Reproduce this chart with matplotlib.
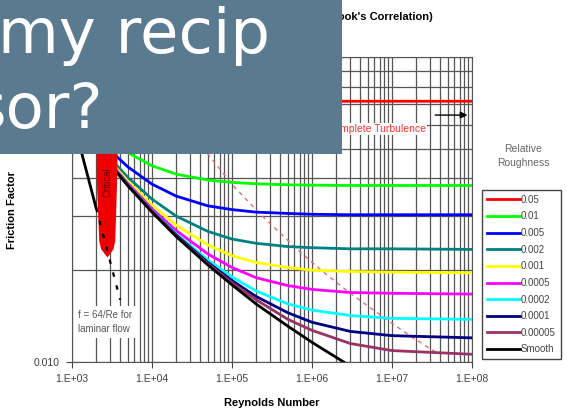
import matplotlib
matplotlib.use("Agg")
import matplotlib.pyplot as plt
from matplotlib.patches import Rectangle
from matplotlib.ticker import LogLocator, FixedLocator, NullFormatter

plt.rcParams['font.family'] = ['Liberation Sans', 'DejaVu Sans']

# Reynolds numbers the turbulent curves are sampled at
re_turb = [3e3, 5e3, 1e4, 2e4, 5e4, 1e5, 2e5, 5e5, 1e6, 3e6, 1e7, 1e8]

# friction factor for each relative roughness
f_05 = [0.0816, 0.0780, 0.0751, 0.0734, 0.0724, 0.0720, 0.0718, 0.0717, 0.0716, 0.0716, 0.0716, 0.0716]
f_01 = [0.0537, 0.0486, 0.0440, 0.0413, 0.0395, 0.0388, 0.0384, 0.0381, 0.0380, 0.0379, 0.0379, 0.0379]
f_005 = [0.0494, 0.0436, 0.0383, 0.0350, 0.0325, 0.0316, 0.0310, 0.0307, 0.0305, 0.0304, 0.0304, 0.0304]
f_002 = [0.0465, 0.0403, 0.0342, 0.0301, 0.0268, 0.0253, 0.0245, 0.0239, 0.0237, 0.0235, 0.0235, 0.0234]
f_001 = [0.0455, 0.0391, 0.0327, 0.0281, 0.0242, 0.0223, 0.0212, 0.0204, 0.0200, 0.0198, 0.0197, 0.0196]
f_0005 = [0.0450, 0.0385, 0.0318, 0.0270, 0.0226, 0.0204, 0.0189, 0.0178, 0.0173, 0.0169, 0.0168, 0.0167]
f_0002 = [0.0447, 0.0381, 0.0313, 0.0263, 0.0216, 0.0190, 0.0171, 0.0155, 0.0148, 0.0142, 0.0139, 0.0138]
f_0001 = [0.0446, 0.0380, 0.0312, 0.0261, 0.0212, 0.0185, 0.0164, 0.0145, 0.0135, 0.0126, 0.0122, 0.0120]
f_00005 = [0.0445, 0.0379, 0.0311, 0.0259, 0.0210, 0.0182, 0.0160, 0.0138, 0.0127, 0.0115, 0.0109, 0.0106]
f_smooth = [0.0445, 0.0378, 0.0310, 0.0258, 0.0208, 0.0179, 0.0155, 0.0131, 0.0116, 0.0097, 0.0081, 0.0060]

roughness = ['0.05', '0.01', '0.005', '0.002', '0.001', '0.0005', '0.0002', '0.0001', '0.00005', 'Smooth']
colors = ['#ff0000', '#00ff00', '#0000ff', '#008080', '#ffff00', '#ff00ff', '#00ffff', '#000080', '#993366', '#000000']

# laminar line f = 64/Re, solid then dashed through the critical zone
re_lam = [1000, 2000]
f_lam = [0.064, 0.032]
re_lam_dash = [2000, 4000]
f_lam_dash = [0.032, 0.016]

# critical zone outline (friction factor vs left / right Re)
f_crit = [0.0221, 0.0235, 0.025, 0.03, 0.04, 0.06, 0.1]
re_crit_left = [2740, 2280, 2160, 2100, 2010, 1990, 1990]
re_crit_right = [2740, 3250, 3420, 3500, 3620, 3700, 3700]

# start of complete turbulence for each roughness
re_full = [14950, 102700, 229500, 654000, 1427000, 3100000, 8530000, 18260000, 38900000]
f_full = [0.0716, 0.0379, 0.0304, 0.0234, 0.0196, 0.0167, 0.0138, 0.0120, 0.0106]

W, H = 567, 419
fig = plt.figure(figsize=(W / 100, H / 100), dpi=100)
ax = fig.add_axes([72 / W, 1 - 362 / H, 400 / W, 305 / H])
ax.set_xscale('log')
ax.set_yscale('log')
ax.set_xlim(1e3, 1e8)
ax.set_ylim(0.01, 0.1)

# grid on every minor step
ax.xaxis.set_major_locator(LogLocator(base=10, numticks=10))
ax.xaxis.set_minor_locator(LogLocator(base=10, subs=range(2, 10), numticks=20))
ax.yaxis.set_major_locator(FixedLocator([0.01, 0.1]))
ax.yaxis.set_minor_locator(FixedLocator([0.02, 0.03, 0.04, 0.05, 0.06, 0.07, 0.08, 0.09]))
ax.xaxis.set_minor_formatter(NullFormatter())
ax.yaxis.set_minor_formatter(NullFormatter())
ax.grid(True, which='both', color='#555555', lw=0.9)
ax.set_axisbelow(True)

ax.set_xticks([1e3, 1e4, 1e5, 1e6, 1e7, 1e8])
ax.set_xticklabels(['1.E+03', '1.E+04', '1.E+05', '1.E+06', '1.E+07', '1.E+08'])
ax.set_yticks([0.01, 0.1])
ax.set_yticklabels(['0.010', '0.100'])
ax.tick_params(which='major', length=4, color='#444444', labelsize=7.5, labelcolor='#404040', pad=5)
ax.tick_params(which='minor', length=0)
for s in ax.spines.values():
    s.set_color('#555555')

series = [f_05, f_01, f_005, f_002, f_001, f_0005, f_0002, f_0001, f_00005, f_smooth]
handles = []
for vals, lab, c in zip(series, roughness, colors):
    ln, = ax.plot(re_turb, vals, color=c, lw=2.0, label=lab, zorder=3)
    handles.append(ln)

ax.plot(re_full, f_full, color='#e07070', lw=1.0, dashes=(3, 3), zorder=2)

ax.plot(re_lam, f_lam, color='black', lw=2.0, zorder=3)
ax.fill_betweenx(f_crit, re_crit_left, re_crit_right, color='#ee0000', lw=0, zorder=4)
ax.plot(re_lam_dash, f_lam_dash, color='black', lw=1.6, dashes=(2, 4), zorder=5)
ax.text(2740, 0.039, 'Critical', rotation=90, ha='center', va='center',
        fontsize=7, color='#6a0000', zorder=6)

ax.text(2.66e7, 0.0581, 'Complete Turbulence', ha='right', va='center', fontsize=7.5,
        color='#ff3030', zorder=6,
        bbox=dict(facecolor='white', edgecolor='none', pad=1))
ax.annotate('', xy=(9.5e7, 0.0645), xytext=(3.2e7, 0.0645),
            arrowprops=dict(arrowstyle='-|>', color='black', lw=1.0, mutation_scale=10),
            zorder=6)

ax.text(1.19e3, 0.0148, 'f = 64/Re for\nlaminar flow', ha='left', va='top', fontsize=7,
        color='#555555', linespacing=1.5, zorder=6,
        bbox=dict(facecolor='white', edgecolor='none', pad=3))

ax.set_xlabel('Reynolds Number', fontsize=8, fontweight='bold', labelpad=10)
ax.set_ylabel('Friction Factor', fontsize=8, fontweight='bold')
ax.yaxis.set_label_coords(-0.1375, 0.5)

fig.text(433 / W, 1 - 17 / H, "Moody Diagram (Colebrook's Correlation)", ha='right',
         va='center', fontsize=8, fontweight='bold')

fig.text(523 / W, 1 - 156 / H, 'Relative\nRoughness', ha='center', va='center',
         fontsize=7.5, color='#666666', linespacing=1.6)
fig.legend(handles=handles, loc='upper left', bbox_to_anchor=(482 / W, 1 - 190 / H),
           fontsize=7, labelcolor='#444444', frameon=True, fancybox=False,
           edgecolor='#444444', framealpha=1, handlelength=3.4, handletextpad=0.1,
           labelspacing=0.68, borderpad=0.5, borderaxespad=0)

# slide banner over the top-left corner
fig.patches.append(Rectangle((0, 1 - 154 / H), 342 / W, 154 / H, transform=fig.transFigure,
                             facecolor='#5a7b8f', edgecolor='none', zorder=10))
fig.text(-2 / W, 1 - 53 / H, 'my recip', ha='left', va='baseline', fontsize=45,
         color='white', family='DejaVu Sans', zorder=11)
fig.text(103 / W, 1 - 128 / H, 'sor?', ha='right', va='baseline', fontsize=45,
         color='white', family='DejaVu Sans', zorder=11)

fig.savefig('out.png', dpi=100)
